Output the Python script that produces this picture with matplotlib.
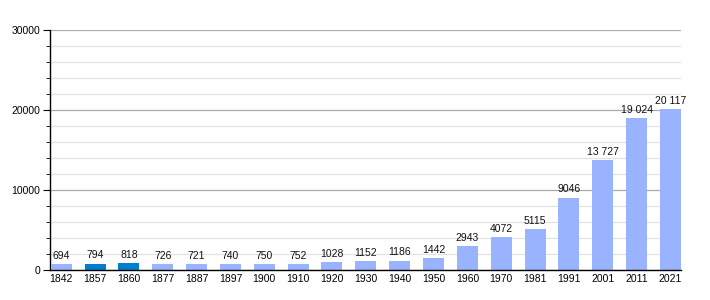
import matplotlib.pyplot as plt
import numpy as np
from matplotlib.ticker import MultipleLocator

plt.rcParams['font.family'] = ['Liberation Sans', 'DejaVu Sans']

years = ["1842", "1857", "1860", "1877", "1887", "1897", "1900", "1910", "1920", "1930",
         "1940", "1950", "1960", "1970", "1981", "1991", "2001", "2011", "2021"]
population = [694, 794, 818, 726, 721, 740, 750, 752, 1028, 1152,
              1186, 1442, 2943, 4072, 5115, 9046, 13727, 19024, 20117]
labels = ["694", "794", "818", "726", "721", "740", "750", "752", "1028", "1152",
          "1186", "1442", "2943", "4072", "5115", "9046", "13 727", "19 024", "20 117"]
dark_years = ["1857", "1860"]

fig = plt.figure(figsize=(7.1, 3.0), dpi=100)
ax = fig.add_axes([50/710, 30/300, 631/710, 240/300])

x = np.arange(len(years))
colors = ['#0080cc' if y in dark_years else '#99b3ff' for y in years]
ax.bar(x, population, width=0.62, color=colors, zorder=3)

for xi, v, lab in zip(x, population, labels):
    ax.text(xi, v + 400, lab, ha='center', va='bottom', fontsize=7.5, color='#111111', zorder=4)

ax.set_xlim(-0.33, 18.31)
ax.set_ylim(0, 30000)
ax.set_xticks(x)
ax.set_xticklabels(years, fontsize=7.5)
ax.yaxis.set_major_locator(MultipleLocator(10000))
ax.yaxis.set_minor_locator(MultipleLocator(2000))
ax.tick_params(axis='y', which='major', length=5, labelsize=7.5, pad=2)
ax.tick_params(axis='y', which='minor', length=3)
ax.tick_params(axis='x', length=0, pad=3)
ax.grid(axis='y', which='major', color='#aaaaaa', lw=0.9, zorder=1)
ax.grid(axis='y', which='minor', color='#e2e2e2', lw=0.9, zorder=1)

for s in ['top', 'right']:
    ax.spines[s].set_visible(False)
ax.spines['left'].set_linewidth(1)
ax.spines['bottom'].set_linewidth(1)
ax.spines['bottom'].set_zorder(5)

fig.savefig('out.png', dpi=100)
